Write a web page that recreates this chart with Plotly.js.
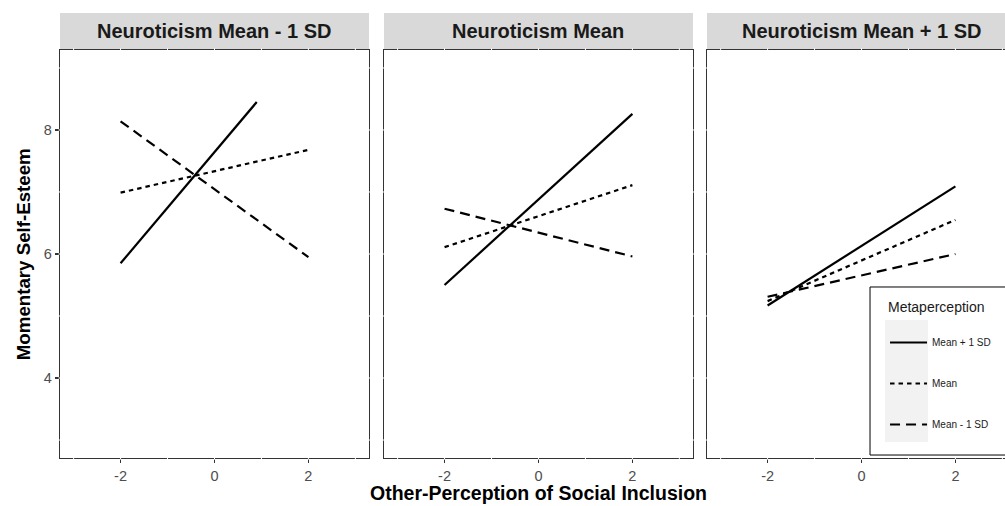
<!DOCTYPE html>
<html>
<head>
<meta charset="utf-8">
<script src="https://cdn.plot.ly/plotly-3.0.1.min.js"></script>
<style>
html, body { margin: 0; padding: 0; overflow: hidden; background: #fff; }
#chart { width: 1020px; height: 506px; }
</style>
</head>
<body>
<div id="chart"></div>
<script>
// ---- data ----
const panelTitles = ["Neuroticism Mean - 1 SD", "Neuroticism Mean", "Neuroticism Mean + 1 SD"];
const seriesNames = ["Mean + 1 SD", "Mean", "Mean - 1 SD"];
const legendTitle = "Metaperception";
// x endpoints per panel for each metaperception level
const xHigh = [[-2, 0.9], [-2, 2], [-2, 2]];
const xMid  = [[-2, 2], [-2, 2], [-2, 2]];
const xLow  = [[-2, 2], [-2, 2], [-2, 2]];
// y endpoints per panel
const yHigh = [[5.85, 8.45], [5.50, 8.26], [5.17, 7.09]];
const yMid  = [[6.99, 7.68], [6.11, 7.11], [5.24, 6.55]];
const yLow  = [[8.14, 5.95], [6.73, 5.96], [5.31, 6.00]];
const xTicks = [-2, 0, 2];
const yTicks = [4, 6, 8];
const xGrid = [-3, -2, -1, 0, 1, 2, 3];
const yGrid = [3, 4, 5, 6, 7, 8, 9];

const dashes = ["solid", "4.5px,4px", "10px,6px"];
const seriesX = [xHigh, xMid, xLow];
const seriesY = [yHigh, yMid, yLow];

const traces = [];
for (let p = 0; p < 3; p++) {
  for (let s = 0; s < 3; s++) {
    traces.push({
      type: "scatter", mode: "lines",
      x: seriesX[s][p], y: seriesY[s][p],
      xaxis: p === 0 ? "x" : "x" + (p + 1),
      yaxis: p === 0 ? "y" : "y" + (p + 1),
      name: seriesNames[s],
      legendgroup: seriesNames[s],
      showlegend: p === 0,
      line: { color: "#000", width: 2.2, dash: dashes[s] },
      hoverinfo: "skip"
    });
  }
}

const font = "Liberation Sans, Arial, sans-serif";
const domains = [[0, 0.3232], [0.3389, 0.6621], [0.6768, 1]];
const yDomain = [0, 0.9169];
const layout = {
  width: 1020, height: 506,
  margin: { l: 60, r: 4, t: 13, b: 48 },
  paper_bgcolor: "#fff", plot_bgcolor: "#fff",
  font: { family: font, color: "#000" },
  showlegend: true,
  legend: {
    x: 0.863, y: 0.2921, xanchor: "left", yanchor: "top",
    bgcolor: "rgba(0,0,0,0)", borderwidth: 0,
    font: { size: 10, color: "#1a1a1a" },
    itemwidth: 37,
    tracegroupgap: 22, traceorder: "grouped"
  },
  shapes: [], annotations: []
};

for (let p = 0; p < 3; p++) {
  const sfx = p === 0 ? "" : String(p + 1);
  layout["xaxis" + sfx] = {
    domain: domains[p], range: [-3.29, 3.29], anchor: "y" + sfx,
    showgrid: false, zeroline: false,
    showline: true, mirror: true, linecolor: "#333", linewidth: 1.3,
    ticks: "outside", ticklen: 4, tickwidth: 1.3, tickcolor: "#333",
    tickvals: xTicks, ticktext: xTicks.map(String),
    tickfont: { size: 14.5, color: "#4d4d4d", family: font }
  };
  layout["yaxis" + sfx] = {
    domain: yDomain, range: [2.71, 9.29], anchor: "x" + sfx,
    showgrid: false, zeroline: false,
    showline: true, mirror: true, linecolor: "#333", linewidth: 1.3,
    ticks: p === 0 ? "outside" : "", ticklen: 4, tickwidth: 1.3, tickcolor: "#333",
    tickvals: yTicks, ticktext: yTicks.map(String),
    showticklabels: p === 0,
    tickfont: { size: 14.5, color: "#4d4d4d", family: font }
  };
  // strip
  layout.shapes.push({
    type: "rect", xref: "x" + sfx + " domain", yref: "paper",
    x0: 0, x1: 1, y0: yDomain[1], y1: 1,
    fillcolor: "#d9d9d9", line: { width: 0 }, layer: "below"
  });
  layout.annotations.push({
    text: "<b>" + panelTitles[p] + "</b>", showarrow: false,
    xref: "x" + sfx + " domain", yref: "paper", x: 0.5, y: (yDomain[1] + 1) / 2,
    xanchor: "center", yanchor: "middle",
    font: { size: 20, color: "#1a1a1a", family: font }
  });
  // white grid gaps crossing the panel border
  xGrid.forEach(v => {
    [[-0.004, 0.004], [0.996, 1.004]].forEach(r => {
      layout.shapes.push({
        type: "line", xref: "x" + sfx, yref: "y" + sfx + " domain",
        x0: v, x1: v, y0: r[0], y1: r[1],
        line: { color: "#fff", width: 1 }, layer: "above"
      });
    });
  });
  yGrid.forEach(v => {
    [[-0.005, 0.005], [0.995, 1.005]].forEach(r => {
      layout.shapes.push({
        type: "line", xref: "x" + sfx + " domain", yref: "y" + sfx,
        x0: r[0], x1: r[1], y0: v, y1: v,
        line: { color: "#fff", width: 1 }, layer: "above"
      });
    });
  });
}

// legend box and key background
layout.shapes.push({
  type: "rect", xref: "paper", yref: "paper",
  x0: 0.8473, x1: 1.03, y0: 0.0067, y1: 0.3843,
  fillcolor: "#fff", line: { color: "#000", width: 1 }, layer: "above"
});
layout.shapes.push({
  type: "rect", xref: "paper", yref: "paper",
  x0: 0.863, x1: 0.908, y0: 0.036, y1: 0.31,
  fillcolor: "#f2f2f2", line: { width: 0 }, layer: "above"
});
layout.annotations.push({
  text: legendTitle, showarrow: false,
  xref: "paper", yref: "paper", x: 0.864, y: 0.3393,
  xanchor: "left", yanchor: "middle",
  font: { size: 14, color: "#1a1a1a", family: font }
});

// axis titles
layout.annotations.push({
  text: "<b>Other-Perception of Social Inclusion</b>", showarrow: false,
  xref: "paper", yref: "paper", x: 0.5, y: -0.0787,
  xanchor: "center", yanchor: "middle",
  font: { size: 19.5, color: "#000", family: font }
});
layout.annotations.push({
  text: "<b>Momentary Self-Esteem</b>", showarrow: false, textangle: -90,
  xref: "paper", yref: "paper", x: -0.0387, y: 0.458,
  xanchor: "center", yanchor: "middle",
  font: { size: 18.7, color: "#000", family: font }
});

Plotly.newPlot("chart", traces, layout, { displayModeBar: false, staticPlot: true });
</script>
</body>
</html>
